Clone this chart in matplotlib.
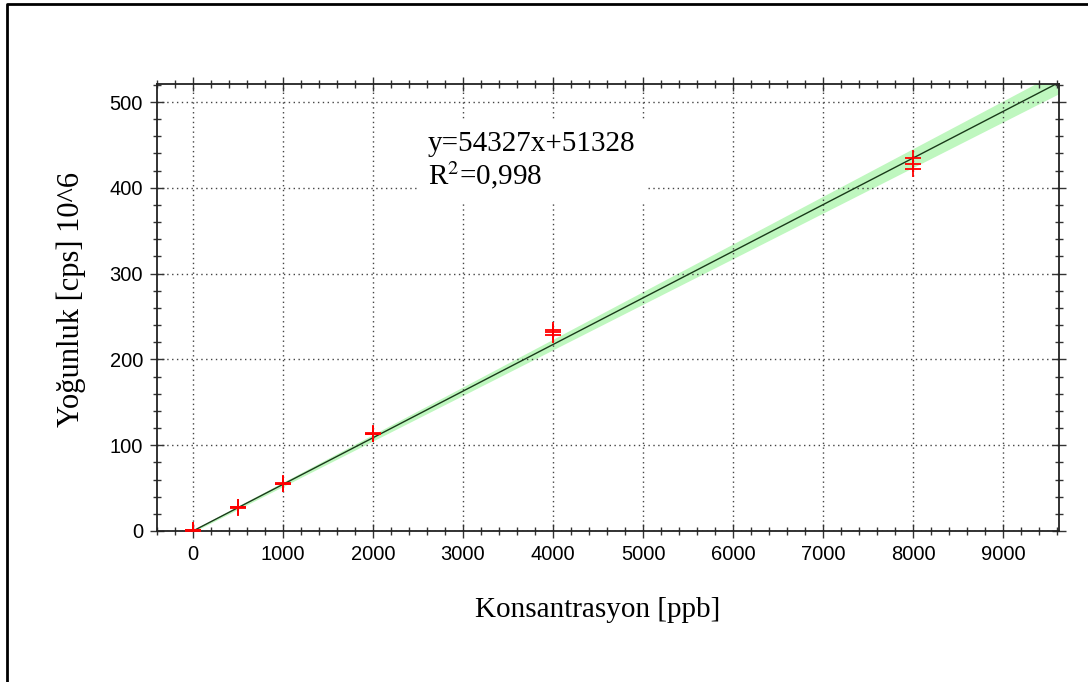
import matplotlib
matplotlib.use("Agg")
import matplotlib.pyplot as plt
from matplotlib.lines import Line2D
from matplotlib.ticker import MultipleLocator
import numpy as np

# calibration standards (ppb) and three replicate intensities (cps, 10^6)
conc = [0, 500, 1000, 2000, 4000, 8000]
rep1 = [0.5, 27.0, 54.5, 112.5, 228.5, 421.5]
rep2 = [1.0, 27.5, 55.0, 113.5, 231.6, 427.4]
rep3 = [1.5, 28.0, 55.5, 114.5, 234.0, 434.4]

# linear fit y = a*x + b (cps), shown in 10^6
slope = 54327
intercept = 51328
fit_x = [-400, 9622]
band_half = [0.8, 13.0]   # confidence band half-width at fit_x ends

fig = plt.figure(figsize=(10.88, 6.82), dpi=100)
ax = fig.add_axes([157 / 1088, 1 - 531 / 682, (1059 - 157) / 1088, (531 - 84) / 682])

fx = np.array(fit_x, dtype=float)
fy = (slope * fx + intercept) / 1e6
hw = np.array(band_half)
ax.fill_between(fx, fy - hw, fy + hw, color="#bff7bf", lw=0, zorder=1)
ax.plot(fx, fy, color="#1a3a1a", lw=1.0, zorder=2)

for reps in (rep1, rep2, rep3):
    ax.plot(conc, reps, ls="none", marker="+", ms=11, mew=1.3, color="red", zorder=3)

ax.set_xlim(-400, 9622)
ax.set_ylim(0, 521)
ax.xaxis.set_major_locator(MultipleLocator(1000))
ax.xaxis.set_minor_locator(MultipleLocator(200))
ax.yaxis.set_major_locator(MultipleLocator(100))
ax.yaxis.set_minor_locator(MultipleLocator(20))
ax.tick_params(which="both", direction="inout", top=True, right=True,
               labelsize=14.5, pad=5, width=1, color="#333333")
ax.tick_params(which="major", length=10)
ax.tick_params(which="minor", length=6)
for lab in ax.get_xticklabels() + ax.get_yticklabels():
    lab.set_family("Liberation Sans")
ax.grid(True, which="major", ls=(0, (1, 2.5)), color="#444444", lw=1)
for s in ax.spines.values():
    s.set_linewidth(1.3)
    s.set_color("#222222")

ax.set_xlabel("Konsantrasyon [ppb]", family="Liberation Serif", fontsize=21)
ax.xaxis.set_label_coords(0.489, -0.148)
ax.set_ylabel("Yoğunluk [cps] 10^6", family="Liberation Serif", fontsize=22)
ax.yaxis.set_label_coords(-0.079, 0.517)

ax.text(0.30, 0.895, "y=54327x+51328\nR$^2$=0,998", transform=ax.transAxes,
        family="Liberation Serif", fontsize=21, va="top", ha="left", linespacing=1.1,
        bbox=dict(facecolor="white", edgecolor="none", pad=8), zorder=4,
        math_fontfamily="stix")

# page frame (left and top edge visible)
fig.add_artist(Line2D([7 / 1088, 7 / 1088, 1.0], [0.0, 1 - 4 / 682, 1 - 4 / 682],
                      transform=fig.transFigure, color="black", lw=2))

fig.savefig("out.png", dpi=100)
